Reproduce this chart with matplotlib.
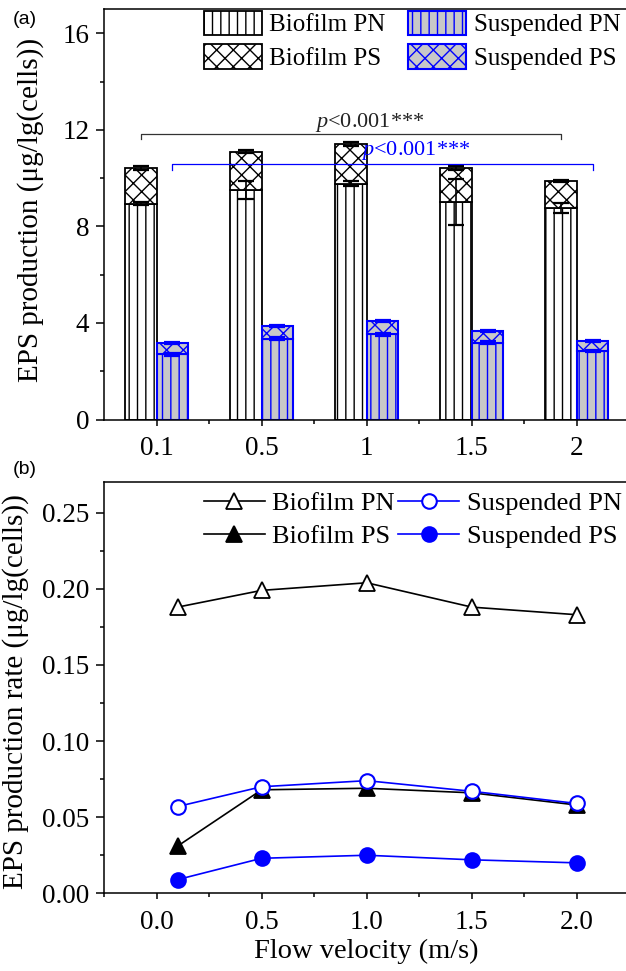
import matplotlib
matplotlib.use('Agg')
import matplotlib.pyplot as plt
import numpy as np
from matplotlib.ticker import MultipleLocator, FixedLocator, FormatStrFormatter

plt.rcParams['font.family'] = ['Liberation Serif', 'DejaVu Serif']
plt.rcParams['mathtext.fontset'] = 'custom'
plt.rcParams['mathtext.rm'] = 'Liberation Serif'
plt.rcParams['mathtext.it'] = 'Liberation Serif:italic'
plt.rcParams['hatch.linewidth'] = 1.0

# ---------------- data ----------------
velocity_labels = ['0.1', '0.5', '1', '1.5', '2']
velocity = [0.1, 0.5, 1.0, 1.5, 2.0]

biofilm_pn = [8.95, 9.50, 9.77, 9.00, 8.76]
biofilm_pn_err = [0.07, 0.37, 0.10, 0.95, 0.20]
biofilm_ps = [1.48, 1.60, 1.65, 1.41, 1.14]
biofilm_ps_err = [0.08, 0.05, 0.08, 0.08, 0.04]
susp_pn = [2.70, 3.35, 3.53, 3.19, 2.84]
susp_pn_err = [0.05, 0.05, 0.06, 0.05, 0.05]
susp_ps = [0.47, 0.51, 0.54, 0.48, 0.42]
susp_ps_err = [0.04, 0.04, 0.04, 0.04, 0.04]

rate_biofilm_pn = [0.188, 0.199, 0.204, 0.188, 0.183]
rate_biofilm_ps = [0.031, 0.068, 0.069, 0.066, 0.058]
rate_susp_pn = [0.057, 0.070, 0.074, 0.067, 0.059]
rate_susp_ps = [0.009, 0.023, 0.025, 0.022, 0.020]

# ---------------- figure ----------------
W, H = 626, 971
fig = plt.figure(figsize=(W / 100, H / 100), dpi=100)
ax1 = fig.add_axes([104 / W, 1 - 419.5 / H, 525.5 / W, 410.2 / H])
ax2 = fig.add_axes([104 / W, 1 - 893.3 / H, 525.5 / W, 411.6 / H])

BLUE = '#0000ff'
GRAY = '#c8c8c8'
FS = 19.5
LFS = 21
bw = 0.3
pos = np.arange(1, len(velocity_labels) + 1)
bio_tot = np.array(biofilm_pn) + np.array(biofilm_ps)
sus_tot = np.array(susp_pn) + np.array(susp_ps)

h1 = ax1.bar(pos - bw / 2, biofilm_pn, bw, facecolor='white', edgecolor='black',
             hatch='||', lw=1.3, label='Biofilm PN')
h2 = ax1.bar(pos - bw / 2, biofilm_ps, bw, bottom=biofilm_pn, facecolor='white',
             edgecolor='black', hatch='xx', lw=1.3, label='Biofilm PS')
h3 = ax1.bar(pos + bw / 2, susp_pn, bw, facecolor=GRAY, edgecolor=BLUE,
             hatch='||', lw=1.5, label='Suspended PN')
h4 = ax1.bar(pos + bw / 2, susp_ps, bw, bottom=susp_pn, facecolor=GRAY,
             edgecolor=BLUE, hatch='xx', lw=1.5, label='Suspended PS')

ek = dict(fmt='none', capsize=5.5, elinewidth=1.2, capthick=1.6)
ax1.errorbar(pos - bw / 2, biofilm_pn, yerr=biofilm_pn_err, ecolor='black', **ek)
ax1.errorbar(pos - bw / 2, bio_tot, yerr=biofilm_ps_err, ecolor='black', **ek)
ax1.errorbar(pos + bw / 2, susp_pn, yerr=susp_pn_err, ecolor=BLUE, **ek)
ax1.errorbar(pos + bw / 2, sus_tot, yerr=susp_ps_err, ecolor=BLUE, **ek)

# significance brackets
yb = bio_tot.max() + 0.42
ax1.plot([pos[0] - bw / 2, pos[0] - bw / 2, pos[-1] - bw / 2, pos[-1] - bw / 2],
         [yb - 0.21, yb, yb, yb - 0.21], color='#333333', lw=0.9)
ax1.text(3.03, yb + 0.46, '$p$<0.001***', ha='center', va='center',
         fontsize=16, color='#222222')
ys = yb - 1.24
ax1.plot([pos[0] + bw / 2, pos[0] + bw / 2, pos[-1] + bw / 2, pos[-1] + bw / 2],
         [ys - 0.25, ys, ys, ys - 0.25], color=BLUE, lw=0.9)
ax1.text(3.47, ys + 0.55, '$p$<0.001***', ha='center', va='center',
         fontsize=16, color=BLUE)

ax1.set_xlim(0.5, 5.5)
ax1.set_ylim(0, 17)
ax1.set_xticks(pos)
ax1.set_xticklabels(velocity_labels)
ax1.xaxis.set_minor_locator(FixedLocator(pos[:-1] + 0.5))
ax1.yaxis.set_major_locator(MultipleLocator(4))
ax1.yaxis.set_minor_locator(MultipleLocator(2))
ax1.set_ylabel('EPS production (μg/lg(cells))', fontsize=LFS)
ax1.yaxis.set_label_coords((44 - 104) / 525.5, 0.51)

ax1.legend(handles=[h1, h2, h3, h4], ncol=2, loc='upper left',
           bbox_to_anchor=(0.19, 0.997), fontsize=18, frameon=False,
           handlelength=2.32, handleheight=1.15, handletextpad=0.3,
           columnspacing=0.9, labelspacing=0.3, borderpad=0, borderaxespad=0)

# ---------------- panel b ----------------
ax2.plot(velocity, rate_biofilm_pn, color='black', marker='^', mfc='white',
         mec='black', ms=12, mew=1.3, lw=1.2, label='Biofilm PN')
ax2.plot(velocity, rate_biofilm_ps, color='black', marker='^', mfc='black',
         mec='black', ms=12, mew=1.3, lw=1.2, label='Biofilm PS')
ax2.plot(velocity, rate_susp_pn, color=BLUE, marker='o', mfc='white',
         mec=BLUE, ms=10.5, mew=1.5, lw=1.2, label='Suspended PN')
ax2.plot(velocity, rate_susp_ps, color=BLUE, marker='o', mfc=BLUE,
         mec=BLUE, ms=10.5, mew=1.5, lw=1.2, label='Suspended PS')

ax2.set_xlim(-0.25, 2.25)
ax2.set_ylim(0, 0.2704)
ax2.xaxis.set_major_locator(MultipleLocator(0.5))
ax2.xaxis.set_minor_locator(MultipleLocator(0.25))
ax2.yaxis.set_major_locator(MultipleLocator(0.05))
ax2.yaxis.set_minor_locator(MultipleLocator(0.025))
ax2.xaxis.set_major_formatter(FormatStrFormatter('%.1f'))
ax2.yaxis.set_major_formatter(FormatStrFormatter('%.2f'))
ax2.set_xlabel('Flow velocity (m/s)', fontsize=20.5, labelpad=3)
ax2.set_ylabel('EPS production rate (μg/lg(cells))', fontsize=LFS)
ax2.yaxis.set_label_coords((29 - 104) / 525.5, 0.49)

ax2.legend(ncol=2, loc='upper left', bbox_to_anchor=(0.19, 0.975), fontsize=19,
           frameon=False, handlelength=2.3, handletextpad=0.3, columnspacing=0.12,
           labelspacing=0.34, borderpad=0, borderaxespad=0)

for ax in (ax1, ax2):
    for s in ('left', 'bottom', 'top', 'right'):
        ax.spines[s].set_linewidth(1.1)
    ax.tick_params(which='both', direction='out', top=False, right=False,
                   width=1.1, labelsize=FS)
    ax.tick_params(axis='x', which='major', length=4, pad=8)
    ax.tick_params(axis='y', which='major', length=5.5, pad=5)
    ax.tick_params(which='minor', length=3)

fig.text(13 / W, 1 - 19 / H, '(a)', family='Liberation Sans', fontsize=14,
         ha='left', va='center')
fig.text(13 / W, 1 - 469 / H, '(b)', family='Liberation Sans', fontsize=14,
         ha='left', va='center')

fig.savefig('out.png', dpi=100)
